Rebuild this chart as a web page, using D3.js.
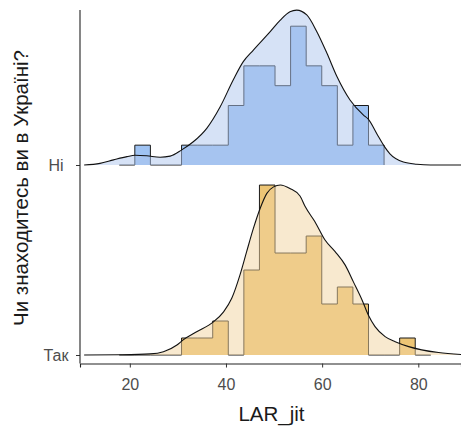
<!DOCTYPE html>
<html>
<head>
<meta charset="utf-8">
<script src="https://cdn.jsdelivr.net/npm/d3@7"></script>
<style>
  body { margin: 0; background: #fff; }
  svg { display: block; }
  text { font-family: "Liberation Sans", Arial, sans-serif; }
</style>
</head>
<body>
<svg id="chart" width="461" height="430"></svg>
<script>
// Groups, bottom to top
const groups = ["Так", "Ні"];

// Histogram bins (shared edges)
const binStart = 17.8;
const binWidth = 3.24;
const countsTak = [0, 0, 0, 0, 1, 1, 2, 0, 5, 10, 6, 6, 7, 3, 4, 3, 0, 0, 1, 0];
const countsNi  = [0, 1, 0, 0, 1, 1, 1, 3, 5, 5, 4, 7, 5, 4, 1, 3, 1];

// Kernel density estimates (x, density)
const densXTak = [10.5, 18.0, 24.2, 27.0, 29.8, 31.1, 33.9, 37.4, 39.5, 41.2, 42.9, 44.3, 45.7, 47.1, 48.5, 49.9, 51.3, 53.3, 55.4, 56.5, 58.5, 60.6, 62.7, 64.8, 66.5, 68.3, 69.6, 71.0, 73.1, 75.2, 78.0, 80.7, 84.2, 88.9];
const densYTak = [0, 0.0001, 0.0004, 0.0012, 0.0037, 0.0056, 0.0086, 0.0123, 0.0160, 0.0210, 0.0296, 0.0383, 0.0469, 0.0543, 0.0599, 0.0623, 0.0630, 0.0617, 0.0589, 0.0549, 0.0494, 0.0426, 0.0383, 0.0333, 0.0271, 0.0204, 0.0148, 0.0105, 0.0068, 0.0049, 0.0031, 0.0019, 0.0009, 0.0002];
const densXNi = [10.5, 13.8, 16.6, 19.4, 21.1, 23.5, 26.3, 28.4, 30.8, 33.2, 36.0, 38.8, 41.5, 43.6, 45.7, 49.2, 51.3, 53.3, 54.7, 56.8, 58.9, 61.0, 63.1, 65.8, 68.6, 69.6, 71.4, 73.0, 74.1, 76.9, 79.7, 82.5, 88.9];
const densYNi = [0, 0.0006, 0.0019, 0.0031, 0.0036, 0.0034, 0.0029, 0.0033, 0.0056, 0.0086, 0.0136, 0.0216, 0.0315, 0.0383, 0.0426, 0.0494, 0.0537, 0.0568, 0.0574, 0.0556, 0.0494, 0.0414, 0.0327, 0.0241, 0.0185, 0.0170, 0.0115, 0.0067, 0.0041, 0.0011, 0.0003, 0, 0];

const xTicks = [20, 40, 60, 80];
const xTitle = "LAR_jit";
const yTitle = "Чи знаходитесь ви в Україні?";

// Fill colours per group
const histFill = { "Ні": "rgb(159,195,243)", "Так": "rgb(237,197,117)" };
const densFill = { "Ні": "rgb(173,197,237)", "Так": "rgb(241,211,159)" };

const series = {
  "Так": { counts: countsTak, dx: densXTak, dy: densYTak },
  "Ні":  { counts: countsNi,  dx: densXNi,  dy: densYNi }
};

const svg = d3.select("#chart");
const panel = { left: 80, right: 461, top: 10, bottom: 363.5 };

const x = d3.scaleLinear().domain([9.64, 88.88]).range([panel.left, panel.right]);
const y = d3.scalePoint().domain(groups).range([355, 165]);
const h = d3.scaleLinear().domain([0, 0.063]).range([0, 170]);

function stepPoints(counts) {
  const n = d3.sum(counts);
  const pts = [[binStart, 0]];
  counts.forEach((c, i) => {
    const d = c / (n * binWidth);
    pts.push([binStart + i * binWidth, d], [binStart + (i + 1) * binWidth, d]);
  });
  pts.push([binStart + counts.length * binWidth, 0]);
  return pts;
}

const plot = svg.append("g");

// Draw top ridge first so lower ridges sit in front
groups.slice().reverse().forEach(g => {
  const base = y(g);
  const s = series[g];
  const hist = stepPoints(s.counts);
  const dens = s.dx.map((v, i) => [v, s.dy[i]]);

  const area = d3.area().x(d => x(d[0])).y0(base).y1(d => base - h(d[1]));
  const line = d3.line().x(d => x(d[0])).y(d => base - h(d[1]));

  plot.append("path").attr("d", area(hist))
    .attr("fill", histFill[g]);
  plot.append("path").attr("d", line(hist))
    .attr("fill", "none").attr("stroke", "#1a1a1a").attr("stroke-width", 1);

  const curveArea = d3.area().curve(d3.curveMonotoneX)
    .x(d => x(d[0])).y0(base).y1(d => base - h(d[1]));
  const curveLine = d3.line().curve(d3.curveMonotoneX)
    .x(d => x(d[0])).y(d => base - h(d[1]));

  plot.append("path").attr("d", curveArea(dens))
    .attr("fill", densFill[g]).attr("fill-opacity", 0.5);
  plot.append("path").attr("d", curveLine(dens))
    .attr("fill", "none").attr("stroke", "#111").attr("stroke-width", 1.1);
});

// Axes
const xAxis = svg.append("g")
  .attr("transform", `translate(0,${panel.bottom})`)
  .call(d3.axisBottom(x).tickValues(xTicks).tickSizeOuter(0).tickSize(4).tickPadding(11.5));
xAxis.select(".domain").attr("stroke", "#222").attr("stroke-width", 1.1);
xAxis.selectAll(".tick line").attr("stroke", "#333");
xAxis.selectAll(".tick text").attr("fill", "#4d4d4d").style("font-size", "16px");

const yAxis = svg.append("g")
  .attr("transform", `translate(${panel.left},0)`)
  .call(d3.axisLeft(y).tickSize(4).tickPadding(0));
yAxis.select(".domain").remove();
yAxis.selectAll(".tick line").attr("stroke", "#333");
yAxis.selectAll(".tick text")
  .attr("x", -24).attr("text-anchor", "middle").attr("dy", "0.32em")
  .attr("fill", "#4d4d4d").style("font-size", "16px");
svg.append("line")
  .attr("x1", panel.left).attr("x2", panel.left)
  .attr("y1", panel.top).attr("y2", panel.bottom)
  .attr("stroke", "#222").attr("stroke-width", 1.1);

// Axis titles
svg.append("text")
  .attr("x", (panel.left + panel.right) / 2 + 1).attr("y", 421)
  .attr("text-anchor", "middle").attr("fill", "#1a1a1a")
  .style("font-size", "20.5px").text(xTitle);
svg.append("text")
  .attr("transform", "translate(28,188) rotate(-90)")
  .attr("text-anchor", "middle").attr("fill", "#1a1a1a")
  .style("font-size", "20.5px").text(yTitle);
</script>
</body>
</html>
